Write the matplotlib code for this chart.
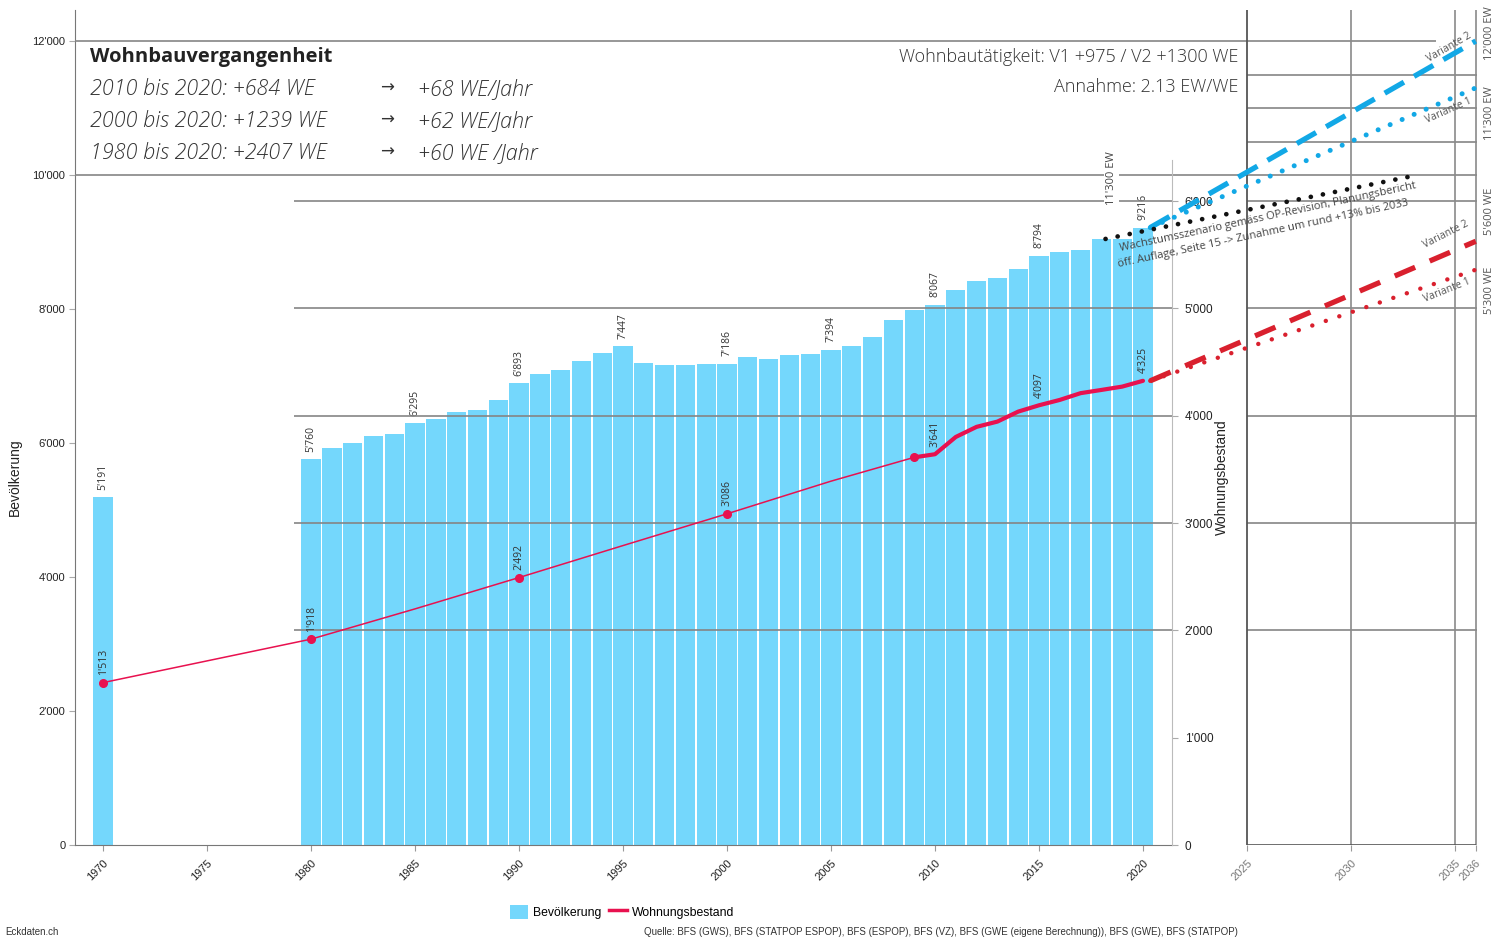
import matplotlib
matplotlib.use("Agg")
import matplotlib.pyplot as plt
from matplotlib.patches import Patch
from matplotlib.lines import Line2D

plt.rcParams['font.family'] = ['Liberation Sans', 'DejaVu Sans']
TXT = ['Open Sans', 'DejaVu Sans']

# --- data -------------------------------------------------------------
bar_years = [1970] + list(range(1980, 2021))
population = [5191,
              5760, 5921, 6006, 6110, 6140, 6295, 6364, 6468, 6498, 6647,
              6893, 7034, 7094, 7228, 7347, 7447, 7198, 7168, 7168, 7183,
              7186, 7288, 7258, 7317, 7332, 7394, 7452, 7586, 7839, 7988,
              8067, 8286, 8420, 8465, 8599, 8794, 8852, 8882, 9040, 9050,
              9216]
bar_label_years = [1970, 1980, 1985, 1990, 1995, 2000, 2005, 2010, 2015, 2020]

we_years_old = [1970, 1980, 1985, 1990, 1995, 2000, 2005, 2009]
we_old = [1513, 1918, 2200, 2492, 2790, 3086, 3390, 3612]
we_years_new = list(range(2009, 2021))
we_new = [3612, 3641, 3802, 3896, 3945, 4038, 4097, 4147, 4210, 4240, 4271, 4325]
we_marker_years = [1970, 1980, 1990, 2000, 2009]
we_label_years = [1970, 1980, 1990, 2000, 2010, 2015, 2020]

proj_years = [2020, 2036]
ew_v1 = [9216, 11300]
ew_v2 = [9216, 12000]
we_v1 = [4325, 5360]
we_v2 = [4325, 5625]
growth_years = [2018, 2033]
growth = [9046, 10000]

left_ticks = [0, 2000, 4000, 6000, 8000, 10000, 12000]
right_ticks = [0, 1000, 2000, 3000, 4000, 5000, 6000]
x_ticks = [1970, 1975, 1980, 1985, 1990, 1995, 2000, 2005, 2010, 2015, 2020,
           2025, 2030, 2035, 2036]
right_grid = [2000, 3000, 4000, 5000, 6000]
panel_grid = [10500, 11000, 11500]
panel_years = [2025, 2030, 2035, 2036]

history = [("Wohnbauvergangenheit", None),
           ("2010 bis 2020: +684 WE", "+68 WE/Jahr"),
           ("2000 bis 2020: +1239 WE", "+62 WE/Jahr"),
           ("1980 bis 2020: +2407 WE", "+60 WE /Jahr")]

BAR = '#74d7fc'
RED = '#e8114f'
RED2 = '#d9202e'
BLUE = '#12a8e6'
GRID = '#858585'

W, H = 1495, 941


def fx(px):
    return px / W


def fy(py):
    return 1 - py / H


def fmt(v):
    return f"{v:,}".replace(",", "'")


X0, X1 = 1968.65, 2036.06
SPINE_X = 2021.4
SHIFT = 0.35

fig = plt.figure(figsize=(W / 100, H / 100), dpi=100)
ax = fig.add_axes([fx(75), fy(845), fx(1477) - fx(75), fy(10) - fy(845)])
ax2 = ax.twinx()

# bars
ax.bar(bar_years, population, width=0.93, color=BAR, zorder=1)
pop = dict(zip(bar_years, population))
for y in bar_label_years:
    ax.text(y, pop[y] + 110, fmt(pop[y]), rotation=90, ha='center', va='bottom',
            fontsize=7.5, color='#333', family=TXT, zorder=6)

# grid lines
ax2.hlines([10000], X0, X1, color=GRID, lw=1.2, zorder=2, transform=ax.transData)
ax2.hlines([12000], X0, 2034.1, color=GRID, lw=1.2, zorder=2, transform=ax.transData)
ax2.hlines(panel_grid, panel_years[0], X1, color=GRID, lw=1.2, zorder=2,
           transform=ax.transData)
ax2.hlines(right_grid, 1979.2, SPINE_X, color=GRID, lw=1.2, zorder=2)
ax2.hlines(right_grid, panel_years[0], X1, color=GRID, lw=1.2, zorder=2)
ax2.vlines(panel_years[0], 0, 7780, color='#555', lw=1.3, zorder=2)
ax2.vlines(panel_years[1:], 0, 7780, color='#8a8a8a', lw=1.2, zorder=2)
ax2.hlines(0, panel_years[0], panel_years[-1], color='#555', lw=1.2, zorder=2)

# dwellings
ax2.plot(we_years_old, we_old, color=RED, lw=1.1, zorder=5)
ax2.plot(we_years_new, we_new, color=RED, lw=3.0, zorder=5, solid_capstyle='round')
we = dict(zip(we_years_old + we_years_new, we_old + we_new))
ax2.plot(we_marker_years, [we[y] for y in we_marker_years], 'o', color=RED,
         ms=5.5, zorder=6)
for y in we_label_years:
    ax2.text(y, we[y] + 70, fmt(we[y]), rotation=90, ha='center', va='bottom',
             fontsize=7.5, color='#333', family=TXT, zorder=7)

# projections
px_years = [proj_years[0] + SHIFT, proj_years[1]]
ax2.plot(px_years, ew_v2, color=BLUE, lw=3.8, ls=(0, (4.2, 2.2)), zorder=6,
         transform=ax.transData)
ax2.plot(px_years, ew_v1, color=BLUE, lw=3.6, ls=(0, (0.01, 2.6)),
         dash_capstyle='round', zorder=6, transform=ax.transData)
ax2.plot([g + 0.2 for g in growth_years], growth, color='#111', lw=3.4,
         ls=(0, (0.01, 2.6)), dash_capstyle='round', zorder=6, transform=ax.transData)
ax2.plot(px_years, we_v2, color=RED2, lw=3.8, ls=(0, (4.2, 3.0)), zorder=6)
ax2.plot(px_years, we_v1, color=RED2, lw=3.2, ls=(0, (0.01, 3.2)),
         dash_capstyle='round', zorder=6)

# axes styling
ax.set_xlim(X0, X1)
ax.set_ylim(0, 12463)
ax2.set_ylim(0, 7780)
for s in ['top', 'right']:
    ax.spines[s].set_visible(False)
for s in ['top', 'left', 'bottom']:
    ax2.spines[s].set_visible(False)
ax.spines['left'].set_color('#777')
ax.spines['bottom'].set_color('#777')
ax.spines['bottom'].set_bounds(X0, SPINE_X)
ax2.spines['right'].set_position(('data', SPINE_X))
ax2.spines['right'].set_bounds(0, 6380)
ax2.spines['right'].set_color('#bbb')

ax.set_yticks(left_ticks)
ax.set_yticklabels([fmt(v) for v in left_ticks])
ax.tick_params(axis='y', length=4, color='#aaa', labelsize=8, pad=3, labelcolor='#222')
ax2.set_yticks(right_ticks)
ax2.set_yticklabels([fmt(v) for v in right_ticks])
ax2.tick_params(axis='y', length=4, color='#aaa', labelsize=8.5, pad=5, labelcolor='#222')

ax.set_xticks(x_ticks)
ax.set_xticklabels([str(t) for t in x_ticks], rotation=45, ha='right',
                   rotation_mode='anchor')
ax.tick_params(axis='x', length=4, color='#999', labelsize=8, pad=5)
for lab, t in zip(ax.get_xticklabels(), x_ticks):
    lab.set_color('#777' if t > 2020 else '#222')

fig.text(fx(15), fy(477), 'Bevölkerung', rotation=90, ha='center', va='center',
         fontsize=10, color='#222')
fig.text(fx(1222), fy(477), 'Wohnungsbestand', rotation=90, ha='center',
         va='center', fontsize=10, color='#222')

# text block
for i, (left, right) in enumerate(history):
    yy = fy(57 + 32 * i)
    if right is None:
        fig.text(fx(90), yy, left, fontsize=14.5, fontweight='bold', family=TXT,
                 va='center', color='#222')
    else:
        fig.text(fx(90), yy, left, fontsize=15.5, style='italic', fontweight='light',
                 family=TXT, va='center', color='#333')
        fig.text(fx(387), yy, '→', fontsize=12, family=TXT, ha='center',
                 va='center', color='#333')
        fig.text(fx(418), yy, right, fontsize=15.5, style='italic', fontweight='light',
                 family=TXT, va='center', color='#333')

fig.text(fx(1238), fy(57), 'Wohnbautätigkeit: V1 +975 / V2 +1300 WE', ha='right',
         va='center', fontsize=13, fontweight='light', family=TXT, color='#333')
fig.text(fx(1238), fy(87), 'Annahme: 2.13 EW/WE', ha='right', va='center',
         fontsize=13, fontweight='light', family=TXT, color='#333')

# annotations
ax2.text(2018.5, 9950, "11'300 EW", rotation=90, ha='center', va='center',
         fontsize=8, family=TXT, color='#444', transform=ax.transData, zorder=8,
         bbox=dict(facecolor='white', edgecolor='none', pad=1.5))
fig.text(fx(1120), fy(251), 'Wachstumsszenario gemäss OP-Revision, Planungsbericht',
         rotation=12, rotation_mode='anchor', ha='left', va='baseline',
         fontsize=8, family=TXT, color='#444')
fig.text(fx(1118), fy(267), 'öff. Auflage, Seite 15 -> Zunahme um rund +13% bis 2033',
         rotation=12, rotation_mode='anchor', ha='left', va='baseline',
         fontsize=8, family=TXT, color='#444')

for (x, y, txt, rot) in [(1449, 47, 'Variante 2', 30), (1449, 111, 'Variante 1', 24),
                         (1446, 235, 'Variante 2', 27), (1447, 290, 'Variante 1', 22)]:
    fig.text(fx(x), fy(y), txt, rotation=rot, ha='center', va='center',
             rotation_mode='anchor', fontsize=7.5, family=TXT, color='#555')

for (y, txt) in [(33, "12'000 EW"), (113, "11'300 EW"), (211, "5'600 WE"), (290, "5'300 WE")]:
    fig.text(fx(1490), fy(y), txt, rotation=90, ha='center', va='center',
             fontsize=8, family=TXT, color='#555')

# legend + footer
handles = [Patch(facecolor=BAR, label='Bevölkerung'),
           Line2D([0], [0], color=RED, lw=2.5, label='Wohnungsbestand')]
fig.legend(handles=handles, loc='center', bbox_to_anchor=(fx(622), fy(912)), ncol=2,
           frameon=False, fontsize=8.8, handlelength=1.5, handleheight=1.5,
           columnspacing=0.6, handletextpad=0.4)
fig.text(fx(5), fy(932), 'Eckdaten.ch', fontsize=7, va='center', color='#333')
fig.text(fx(1238), fy(932),
         'Quelle: BFS (GWS), BFS (STATPOP ESPOP), BFS (ESPOP), BFS (VZ), '
         'BFS (GWE (eigene Berechnung)), BFS (GWE), BFS (STATPOP)',
         ha='right', va='center', fontsize=7, color='#333')

fig.savefig('out.png', dpi=100)
